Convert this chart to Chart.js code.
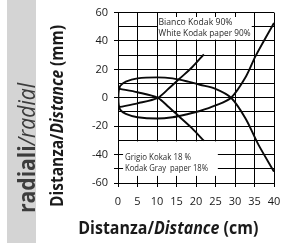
<!DOCTYPE html>
<html><head><meta charset="utf-8">
<script src="https://cdn.jsdelivr.net/npm/chart.js@4/dist/chart.umd.min.js"></script>
<style>html,body{margin:0;padding:0;background:#fff;}#wrap{width:298px;height:243px;}</style>
</head><body><div id="wrap"><canvas id="c" width="298" height="243"></canvas></div>
<script>
// ---- data ----
// White Kodak 90%: closed lobe whose two branches cross and run to the right edge
const whiteX = [40, 36, 32.7, 29, 25, 21, 18, 14, 10, 5, 2, 0.6, 0.2, 0.1, 0.2, 0.6, 2, 5, 10, 14, 18, 21, 25, 29, 32.7, 35.3, 40];
const whiteY = [-52, -33, -14.6, 0, 6.3, 9.2, 11.4, 13.7, 14.4, 13.7, 11.4, 8.5, 5, 0, -5, -8.5, -11.4, -13.7, -14.6, -13.7, -11.4, -9.3, -5.4, 0, 14.4, 29.5, 52.7];
// Gray Kodak 18%: two crossing branches
const grayDownX = [0.5, 5, 10.2, 13, 16, 19, 22];
const grayDownY = [6.3, 3.9, 0, -6.5, -14, -21.5, -30.2];
const grayUpX = [0.5, 5, 10.2, 13, 16, 19, 22];
const grayUpY = [-6.4, -3.9, 0, 6.5, 14, 21.5, 30.6];
const xTicks = [0, 5, 10, 15, 20, 25, 30, 35, 40];
const yTicks = [60, 50, 40, 30, 20, 10, 0, -10, -20, -30, -40, -50, -60];
const yLabelled = [60, 40, 20, 0, -20, -40, -60];
const legendWhite = ['Bianco Kodak 90%', 'White Kodak paper 90%'];
const legendGray = ['Grigio Kokak 18 %', 'Kodak Gray  paper 18%'];
const bandParts = [['radiali', 'bold'], ['/radial', 'italic']];
const yTitleParts = [['Distanza/', 'bold'], ['Distance', 'italic bold'], [' (mm)', 'bold']];
const xTitleParts = [['Distanza/', 'bold'], ['Distance', 'italic bold'], [' (cm)', 'bold']];

const pts = (xs, ys) => xs.map((x, i) => ({x: x, y: ys[i]}));
const FONT = '"Open Sans", sans-serif';

function drawParts(ctx, parts, size, width, color) {
  ctx.save();
  let total = 0;
  parts.forEach(p => { ctx.font = p[1] + ' ' + size + 'px ' + FONT; total += ctx.measureText(p[0]).width; });
  const sx = width / total;
  ctx.scale(sx, 1);
  ctx.fillStyle = color;
  ctx.textBaseline = 'alphabetic';
  ctx.textAlign = 'left';
  let x = -total / 2;
  parts.forEach(p => { ctx.font = p[1] + ' ' + size + 'px ' + FONT; ctx.fillText(p[0], x, 0); x += ctx.measureText(p[0]).width; });
  ctx.restore();
}
function drawLine(ctx, text, x, y, size, width, color) {
  ctx.save();
  ctx.font = size + 'px ' + FONT;
  const w = ctx.measureText(text).width;
  ctx.translate(x, y);
  ctx.scale(width / w, 1);
  ctx.fillStyle = color;
  ctx.textAlign = 'left';
  ctx.textBaseline = 'alphabetic';
  ctx.fillText(text, 0, 0);
  ctx.restore();
}

const decor = {
  id: 'decor',
  beforeDraw(chart) {
    const ctx = chart.ctx;
    ctx.save();
    ctx.fillStyle = '#fff';
    ctx.fillRect(0, 0, chart.width, chart.height);
    ctx.fillStyle = '#d4d4d4';
    ctx.fillRect(7, 0, 29, chart.height);
    ctx.save(); ctx.translate(34.5, 148); ctx.rotate(-Math.PI / 2);
    drawParts(ctx, bandParts, 23, 130, '#3c3c3c'); ctx.restore();
    ctx.save(); ctx.translate(63, 116); ctx.rotate(-Math.PI / 2);
    drawParts(ctx, yTitleParts, 17, 182, '#1a1a1a'); ctx.restore();
    ctx.save(); ctx.translate(168.3, 233.5);
    drawParts(ctx, xTitleParts, 17, 180, '#1a1a1a'); ctx.restore();
    ctx.restore();
  },
  beforeDatasetsDraw(chart) {
    const ctx = chart.ctx, xs = chart.scales.x, ys = chart.scales.y;
    ctx.save();
    ctx.fillStyle = '#fff';
    const box = (x0, x1, y0, y1) => {
      const l = xs.getPixelForValue(x0), r = xs.getPixelForValue(x1);
      const t = ys.getPixelForValue(y1), b = ys.getPixelForValue(y0);
      ctx.fillRect(l, t, r - l, b - t);
    };
    box(10.25, 34.3, 41, 56.9);
    box(1.3, 25.6, -55, -30.7);
    drawLine(ctx, legendWhite[0], 158.5, 25, 9, 74, '#2a2a2a');
    drawLine(ctx, legendWhite[1], 158.5, 35.5, 9, 92, '#2a2a2a');
    drawLine(ctx, legendGray[0], 125, 159.5, 9, 66, '#2a2a2a');
    drawLine(ctx, legendGray[1], 125, 171, 9, 83, '#2a2a2a');
    ctx.restore();
  }
};

const lineStyle = {showLine: true, pointRadius: 0, borderColor: '#0a0a0a', borderWidth: 1.9, tension: 0.3, fill: false};

new Chart(document.getElementById('c'), {
  type: 'scatter',
  data: {
    datasets: [
      Object.assign({label: 'White Kodak 90%', data: pts(whiteX, whiteY)}, lineStyle),
      Object.assign({label: 'Gray Kodak 18% a', data: pts(grayDownX, grayDownY)}, lineStyle),
      Object.assign({label: 'Gray Kodak 18% b', data: pts(grayUpX, grayUpY)}, lineStyle)
    ]
  },
  options: {
    responsive: false, animation: false, devicePixelRatio: 1,
    layout: {padding: {left: 0, top: 12, right: 24, bottom: 0}},
    plugins: {legend: {display: false}, tooltip: {enabled: false}},
    scales: {
      x: {
        type: 'linear', min: 0, max: 40,
        afterBuildTicks: s => { s.ticks = xTicks.map(v => ({value: v})); },
        afterFit: s => { s.height = 60; },
        grid: {color: '#000', lineWidth: 1, tickLength: 4, tickColor: '#000'},
        border: {color: '#000', width: 1},
        ticks: {color: '#1a1a1a', font: {family: FONT, size: 11}, padding: 8, maxRotation: 0, autoSkip: false}
      },
      y: {
        type: 'linear', min: -60, max: 60,
        afterBuildTicks: s => { s.ticks = yTicks.map(v => ({value: v})); },
        afterFit: s => { s.width = 118; },
        grid: {color: '#000', lineWidth: 1, tickLength: 4,
          tickColor: c => (c.tick && (yLabelled.includes(c.tick.value) || c.tick.value === -50)) ? '#000' : 'rgba(0,0,0,0)'},
        border: {color: '#000', width: 1},
        ticks: {color: '#1a1a1a', font: {family: FONT, size: 11}, padding: 6, autoSkip: false,
          callback: v => yLabelled.includes(v) ? String(v) : ''}
      }
    }
  },
  plugins: [decor]
});
</script>
</body></html>
